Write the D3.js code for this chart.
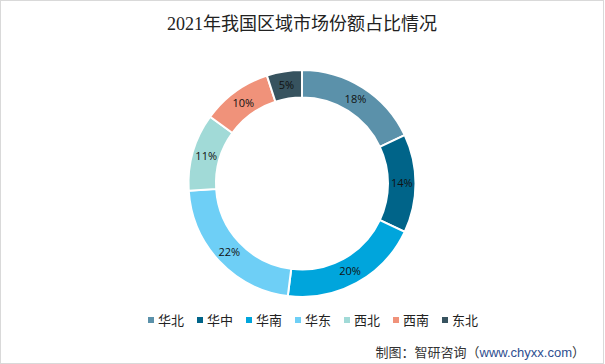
<!DOCTYPE html>
<html>
<head>
<meta charset="utf-8">
<script src="https://cdn.jsdelivr.net/npm/d3@7"></script>
<style>
  body { margin: 0; background: #fff; }
  svg { display: block; }
</style>
</head>
<body>
<svg id="donut" width="605" height="364"></svg>
<script>
const regions = ["华北", "华中", "华南", "华东", "西北", "西南", "东北"];
const shares = [18, 14, 20, 22, 11, 10, 5];
const colors = ["#5B91AA", "#006489", "#00A5DC", "#6ECFF6", "#A1DAD7", "#F0927A", "#37535F"];

(() => {
    const svg = d3.select("#donut"),
        width = +svg.attr("width"),
        height = +svg.attr("height");

    // frame
    svg.append("rect")
        .attr("x", 0.5).attr("y", 0.5)
        .attr("width", width - 2).attr("height", height - 1)
        .attr("fill", "#fff")
        .attr("stroke", "#d9d9d9");

    // title
    svg.append("text")
        .attr("x", 302)
        .attr("y", 30)
        .attr("text-anchor", "middle")
        .attr("font-family", "'Liberation Serif', 'Noto Sans CJK SC', serif")
        .attr("font-size", "18px")
        .attr("fill", "#222")
        .text("2021年我国区域市场份额占比情况");

    const cx = 302, cy = 183.5, outer = 113.5, inner = 86;
    const g = svg.append("g").attr("transform", `translate(${cx},${cy})`);

    const pie = d3.pie().sort(null).value(d => d.v);
    const arcs = pie(regions.map((r, i) => ({ r, v: shares[i], c: colors[i] })));
    const arc = d3.arc().innerRadius(inner).outerRadius(outer);
    const mid = d3.arc().innerRadius((inner + outer) / 2).outerRadius((inner + outer) / 2);

    g.selectAll("path")
        .data(arcs)
        .enter().append("path")
        .attr("d", arc)
        .attr("fill", d => d.data.c)
        .attr("stroke", "#fff")
        .attr("stroke-width", 2);

    g.selectAll("text.label")
        .data(arcs)
        .enter().append("text")
        .attr("class", "label")
        .attr("transform", d => `translate(${mid.centroid(d)})`)
        .attr("text-anchor", "middle")
        .attr("dy", "0.35em")
        .attr("font-family", "'Open Sans', 'Noto Sans', sans-serif")
        .attr("font-size", "11px")
        .attr("fill", "#111")
        .text(d => d.data.v + "%");

    // legend
    const lx = d3.scaleBand().domain(regions).range([148, 491]);
    const leg = svg.selectAll("g.leg")
        .data(regions)
        .enter().append("g")
        .attr("class", "leg")
        .attr("transform", d => `translate(${lx(d)},320)`);
    leg.append("rect")
        .attr("x", 0).attr("y", -3)
        .attr("width", 6).attr("height", 6)
        .attr("fill", (d, i) => colors[i]);
    leg.append("text")
        .attr("x", 10)
        .attr("dy", "0.35em")
        .attr("font-family", "'Noto Sans CJK SC', sans-serif")
        .attr("font-size", "13px")
        .attr("fill", "#222")
        .text(d => d);

    // source note
    const src = svg.append("text")
        .attr("x", 585)
        .attr("y", 357)
        .attr("text-anchor", "end")
        .attr("font-family", "'Noto Sans CJK SC', sans-serif")
        .attr("font-size", "13px")
        .attr("fill", "#333");
    src.append("tspan").text("制图：智研咨询（");
    src.append("tspan").attr("fill", "#2E4E8F").attr("font-family", "'Liberation Sans', Arial, sans-serif").text("www.chyxx.com");
    src.append("tspan").text("）");
})();
</script>
</body>
</html>
